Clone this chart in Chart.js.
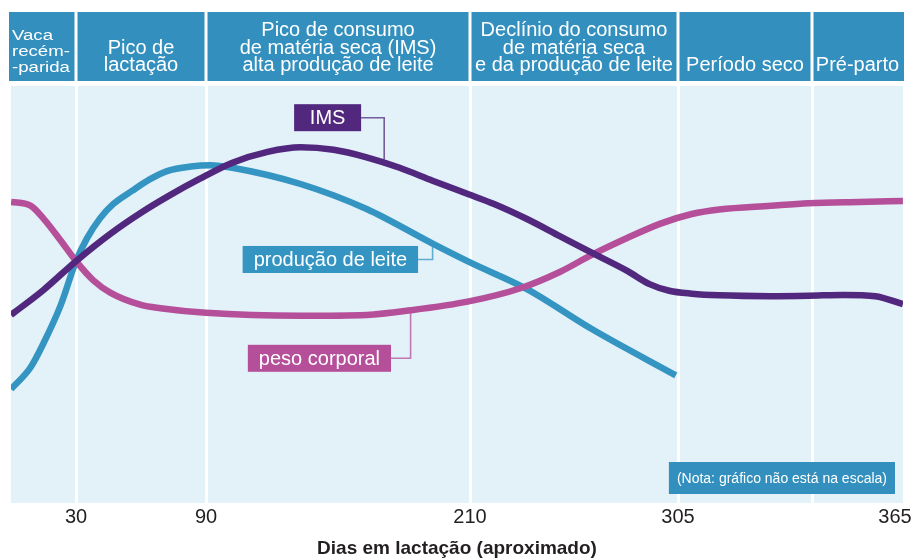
<!DOCTYPE html>
<html>
<head>
<meta charset="utf-8">
<title>Ciclo de lactação</title>
<script src="https://cdn.jsdelivr.net/npm/chart.js@4"></script>
<style>
  html, body { margin: 0; padding: 0; background: #fff; }
  #chart-box { width: 916px; height: 558px; }
</style>
</head>
<body>
<div id="chart-box"><canvas id="lactacao-chart"></canvas></div>
<script>
// fases do ciclo (o gráfico não está na escala, então cada fase tem a sua largura)
const phaseDays = [0, 30, 90, 210, 305, 344, 365];
const phaseSpan = [0, 65, 195, 459, 667, 801, 884];
const axisEnd = 892;

const phaseTitles = [
  ["Vaca", "recém-", "-parida"],
  ["Pico de", "lactação"],
  ["Pico de consumo", "de matéria seca (IMS)", "alta produção de leite"],
  ["Declínio do consumo", "de matéria seca", "e da produção de leite"],
  ["Período seco"],
  ["Pré-parto"],
];

const tickDays = [30, 90, 210, 305, 344, 365];
const tickLabels = ["30", "90", "210", "305", "", "365"];

// IMS (consumo de matéria seca)
const imsDays = [0, 15, 30, 46, 60, 73, 87, 102, 118, 133, 148, 163, 178, 193, 209, 221, 236, 251, 266, 282, 292, 301, 309, 317, 332, 343, 352, 360, 367];
const imsLevel = [45.1, 51.1, 58, 64.6, 69.6, 73.7, 77.7, 81.6, 84.2, 85.3, 84.7, 82.9, 80.4, 77.3, 74.1, 71.7, 68.1, 64, 59.9, 55.6, 52.5, 50.9, 50.2, 49.8, 49.6, 49.7, 49.9, 49.6, 47.7];

// peso corporal
const pesoDays = [0, 9, 15, 23, 30, 38, 46, 60, 69, 90, 133, 163, 183, 210, 233, 251, 266, 282, 297, 309, 317, 332, 343, 356, 367];
const pesoLevel = [72.2, 71.3, 68.2, 62.9, 58, 53.4, 50.4, 47.5, 46.7, 45.6, 44.9, 45.1, 46.2, 48.4, 51.5, 55.4, 59.6, 63.6, 67, 69.3, 70.4, 71.3, 71.9, 72.2, 72.4];

// produção de leite
const leiteDays = [0, 9, 15, 23, 30, 35, 41, 47, 56, 64, 72, 83, 92, 102, 133, 163, 193, 210, 236, 266, 304];
const leiteLevel = [27.3, 32.5, 38.3, 47.5, 58, 63.4, 68.2, 71.6, 74.9, 77.6, 79.6, 80.7, 81, 80.4, 76.5, 70.5, 62.2, 57.7, 51.3, 41.6, 30.6];

const callouts = [
  { series: 0, text: "IMS", day: 171, level: 82.4, boxDay: 160.5, boxLevel: 92.4, minWidth: 67 },
  { series: 2, text: "produção de leite", day: 193, level: 61.8, boxDay: 186.4, boxLevel: 58.4, minWidth: 0 },
  { series: 1, text: "peso corporal", day: 183, level: 45.8, boxDay: 174.1, boxLevel: 34.7, minWidth: 0 },
];
const noteText = "(Nota: gráfico não está na escala)";

const FONT = "'Liberation Sans', Arial, Helvetica, sans-serif";
const headerBg = "#3390be";
const plotBg = "#e3f1f9";
const colors = { ims: "#52287e", peso: "#b54f9a", leite: "#3495c2" };

function axisPos(day) {
  let i = 1;
  while (i < phaseDays.length - 1 && day > phaseDays[i]) i++;
  const d0 = phaseDays[i - 1], d1 = phaseDays[i];
  const p0 = phaseSpan[i - 1], p1 = phaseSpan[i];
  return p0 + (day - d0) * (p1 - p0) / (d1 - d0);
}

function points(days, levels) {
  return days.map((d, i) => ({ x: axisPos(d), y: levels[i] }));
}

const phasePlugin = {
  id: "fases",
  beforeDraw(chart) {
    const { ctx, chartArea: a, scales: { x } } = chart;
    ctx.save();
    ctx.fillStyle = plotBg;
    ctx.fillRect(a.left, a.top, a.right - a.left, a.bottom - a.top);

    const top = a.top - 74, bottom = a.top - 5;
    ctx.fillStyle = headerBg;
    ctx.fillRect(a.left - 2, top, a.right - a.left + 3, bottom - top);

    ctx.strokeStyle = "#fff";
    ctx.lineWidth = 3;
    phaseDays.slice(1, -1).forEach(d => {
      const px = x.getPixelForValue(axisPos(d));
      ctx.beginPath();
      ctx.moveTo(px, top);
      ctx.lineTo(px, bottom);
      ctx.stroke();
    });

    ctx.fillStyle = "#fff";
    ctx.textBaseline = "alphabetic";
    phaseTitles.forEach((lines, i) => {
      const left = x.getPixelForValue(axisPos(phaseDays[i]));
      const right = i === phaseTitles.length - 1 ? a.right : x.getPixelForValue(axisPos(phaseDays[i + 1]));
      if (i === 0) {
        // coluna estreita: texto esticado na horizontal
        ctx.save();
        ctx.translate(left + 1, 0);
        ctx.scale(1.2, 1);
        ctx.font = "15.5px " + FONT;
        ctx.textAlign = "left";
        lines.forEach((t, k) => ctx.fillText(t, 0, bottom - 9.5 - (lines.length - 1 - k) * 16));
        ctx.restore();
        return;
      }
      ctx.font = "20px " + FONT;
      ctx.textAlign = "center";
      lines.forEach((t, k) => ctx.fillText(t, (left + right) / 2, bottom - 10 - (lines.length - 1 - k) * 17.5));
    });
    ctx.restore();
  },
  afterDraw(chart) {
    const { ctx, chartArea: a, scales: { x, y } } = chart;
    ctx.save();
    ctx.font = "20px " + FONT;
    ctx.textAlign = "center";
    ctx.textBaseline = "middle";
    callouts.forEach(c => {
      const color = chart.data.datasets[c.series].borderColor;
      const ax = x.getPixelForValue(axisPos(c.day));
      const ay = y.getPixelForValue(c.level);
      const bx = x.getPixelForValue(axisPos(c.boxDay));
      const by = y.getPixelForValue(c.boxLevel);
      const w = Math.max(ctx.measureText(c.text).width + 22, c.minWidth);
      const h = 27;
      ctx.globalAlpha = 0.75;
      ctx.strokeStyle = color;
      ctx.lineWidth = 1.6;
      ctx.beginPath();
      ctx.moveTo(bx, by);
      ctx.lineTo(ax, by);
      ctx.lineTo(ax, ay);
      ctx.stroke();
      ctx.globalAlpha = 1;
      ctx.fillStyle = color;
      ctx.fillRect(bx - w, by - h / 2, w, h);
      ctx.fillStyle = "#fff";
      ctx.fillText(c.text, bx - w / 2, by + 1);
    });

    ctx.font = "14px " + FONT;
    const nw = ctx.measureText(noteText).width + 16;
    const nh = 32;
    const nr = a.right - 8, nb = a.bottom - 9;
    ctx.fillStyle = headerBg;
    ctx.fillRect(nr - nw, nb - nh, nw, nh);
    ctx.fillStyle = "#fff";
    ctx.fillText(noteText, nr - nw / 2, nb - nh / 2 + 1);
    ctx.restore();
  },
};

const ctx = document.getElementById("lactacao-chart");

new Chart(ctx, {
  type: "line",
  data: {
    datasets: [
      { label: "IMS", data: points(imsDays, imsLevel), borderColor: colors.ims },
      { label: "peso corporal", data: points(pesoDays, pesoLevel), borderColor: colors.peso },
      { label: "produção de leite", data: points(leiteDays, leiteLevel), borderColor: colors.leite },
    ].map(ds => Object.assign(ds, { borderWidth: 6.5, pointRadius: 0, cubicInterpolationMode: "monotone", fill: false })),
  },
  options: {
    responsive: true,
    maintainAspectRatio: false,
    animation: false,
    layout: { padding: { left: 11, right: 13, top: 86, bottom: 0 } },
    plugins: { legend: { display: false }, tooltip: { enabled: false } },
    scales: {
      x: {
        type: "linear",
        min: 0,
        max: axisEnd,
        z: 1,
        border: { display: false },
        grid: {
          color: c => (c.index === tickDays.length - 1 ? "rgba(0,0,0,0)" : "#ffffff"),
          lineWidth: 3,
          drawTicks: false,
        },
        afterBuildTicks: scale => {
          scale.ticks = tickDays.map(d => ({ value: axisPos(d) }));
        },
        ticks: {
          autoSkip: false,
          maxRotation: 0,
          padding: 4,
          color: "#231f20",
          font: { family: FONT, size: 20, lineHeight: 1 },
          callback: (v, i) => tickLabels[i],
        },
        title: {
          display: true,
          text: "Dias em lactação (aproximado)",
          color: "#231f20",
          font: { family: FONT, size: 19, weight: "bold", lineHeight: 1 },
          padding: { top: 8, bottom: 0 },
        },
      },
      y: { display: false, min: 0, max: 100 },
    },
  },
  plugins: [phasePlugin],
});
</script>
</body>
</html>
